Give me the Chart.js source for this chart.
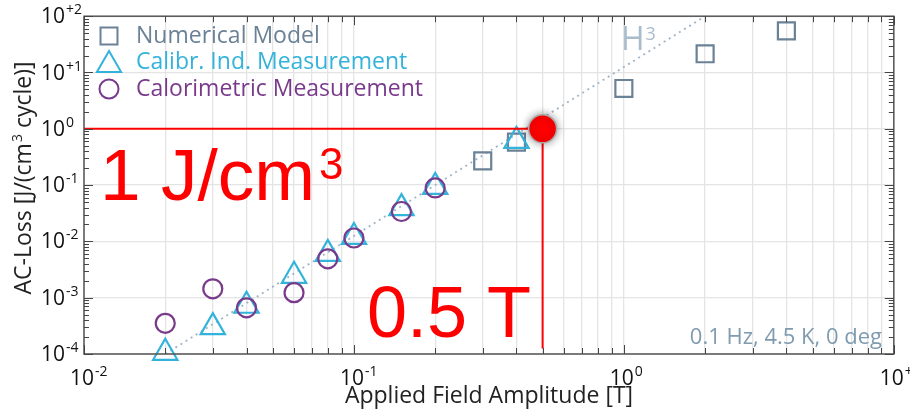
<!DOCTYPE html>
<html>
<head>
<meta charset="utf-8">
<script src="https://cdn.jsdelivr.net/npm/chart.js@4.4.0/dist/chart.umd.min.js"></script>
<style>
  html, body { margin: 0; padding: 0; background: #fff; }
  #wrap { width: 910px; height: 411px; }
</style>
</head>
<body>
<div id="wrap"><canvas id="chart" width="910" height="411"></canvas></div>
<script>
// AC-loss vs applied field, log-log
const fieldNumerical = [0.3, 0.4, 1, 2, 4];
const lossNumerical  = [0.27, 0.58, 5.2, 21.5, 55];

const fieldCalibr = [0.02, 0.03, 0.04, 0.06, 0.08, 0.1, 0.15, 0.2, 0.4];
const lossCalibr  = [1.05e-4, 3.0e-4, 7.2e-4, 2.45e-3, 6.0e-3, 0.012, 0.039, 0.093, 0.61];

const fieldCalor = [0.02, 0.03, 0.04, 0.06, 0.08, 0.1, 0.15, 0.2];
const lossCalor  = [3.5e-4, 1.44e-3, 6.6e-4, 1.23e-3, 4.9e-3, 0.0115, 0.034, 0.089];

const fieldH3 = [0.02, 2];
const lossH3  = [1e-4, 100];

const markField = [0.01, 0.5, 0.5];
const markLoss  = [1, 1, 1.25e-4];
const dotField = [0.5];
const dotLoss  = [1];

const xDecades = [-2, -1, 0, 1];
const yDecades = [-4, -3, -2, -1, 0, 1, 2];
const xTickLabels = ['-2', '-1', '0', '+1'];
const yTickLabels = ['-4', '-3', '-2', '-1', '0', '+1', '+2'];
const legendLabels = ['Numerical Model', 'Calibr. Ind. Measurement', 'Calorimetric Measurement'];

const FONT = '"Open Sans", sans-serif';
const C_NUM = '#6a8196', C_CAL = '#33b3db', C_CLR = '#7a3a8c';

const pts = (xs, ys) => xs.map((x, i) => ({ x: x, y: ys[i] }));

function logTicks(decades) {
  const out = [];
  decades.forEach((d, i) => {
    const base = Math.pow(10, d);
    if (i === decades.length - 1) { out.push(base); return; }
    for (let m = 1; m <= 9; m++) out.push(m * base);
  });
  return out;
}
const xTicks = logTicks(xDecades);
const yTicks = logTicks(yDecades);
const isDecade = v => Math.abs(Math.log10(v) - Math.round(Math.log10(v))) < 1e-9;

function drawPow(ctx, x, y, exp, align) {
  ctx.font = '21px ' + FONT;
  const w10 = ctx.measureText('10').width;
  let x0 = x;
  if (align === 'center') x0 = x - w10 / 2 - 2;
  ctx.textAlign = 'left';
  ctx.textBaseline = 'alphabetic';
  ctx.fillStyle = '#111';
  ctx.fillText('10', x0, y);
  ctx.font = '14px ' + FONT;
  ctx.fillText(exp, x0 + w10 + 1, y - 9);
}

const decor = {
  id: 'decor',
  beforeDatasetsDraw(chart) {
    const ctx = chart.ctx;
    ctx.save();
    ctx.fillStyle = '#aabccb';
    ctx.font = '32px ' + FONT;
    ctx.textBaseline = 'alphabetic';
    ctx.fillText('H', 621, 50);
    const wH = ctx.measureText('H').width;
    ctx.font = '18px ' + FONT;
    ctx.fillText('3', 621 + wH + 1, 40);
    ctx.restore();
  },
  beforeDatasetDraw(chart, args) {
    if (args.index === 5) {
      chart.ctx.save();
      chart.ctx.shadowColor = 'rgba(0,0,0,0.4)';
      chart.ctx.shadowBlur = 8;
    }
  },
  afterDatasetDraw(chart, args) {
    if (args.index === 5) chart.ctx.restore();
  },
  afterDraw(chart) {
    const ctx = chart.ctx, a = chart.chartArea;
    const xs = chart.scales.x, ys = chart.scales.y;
    ctx.save();

    // axis box
    ctx.strokeStyle = '#555';
    ctx.lineWidth = 1.5;
    ctx.strokeRect(a.left, a.top, a.right - a.left, a.bottom - a.top);

    // inward ticks
    ctx.lineWidth = 1;
    ctx.strokeStyle = '#444';
    ctx.beginPath();
    xTicks.forEach(v => {
      const px = Math.round(xs.getPixelForValue(v)) + 0.5;
      const len = isDecade(v) ? 9 : 6;
      ctx.moveTo(px, a.bottom); ctx.lineTo(px, a.bottom - len);
      ctx.moveTo(px, a.top); ctx.lineTo(px, a.top + len);
    });
    yTicks.forEach(v => {
      const py = Math.round(ys.getPixelForValue(v)) + 0.5;
      const len = isDecade(v) ? 9 : 5;
      ctx.moveTo(a.left, py); ctx.lineTo(a.left + len, py);
      ctx.moveTo(a.right, py); ctx.lineTo(a.right - len, py);
    });
    ctx.stroke();

    // tick labels
    xDecades.forEach((d, i) => {
      drawPow(ctx, xs.getPixelForValue(Math.pow(10, d)), 385, xTickLabels[i], 'center');
    });
    yDecades.forEach((d, i) => {
      drawPow(ctx, 41, ys.getPixelForValue(Math.pow(10, d)) + 7, yTickLabels[i], 'left');
    });

    // axis titles
    ctx.fillStyle = '#222';
    ctx.font = '23px ' + FONT;
    ctx.textAlign = 'center';
    ctx.fillText('Applied Field Amplitude [T]', 489, 403);

    ctx.save();
    ctx.translate(31, 178);
    ctx.rotate(-Math.PI / 2);
    ctx.textAlign = 'left';
    const p1 = 'AC-Loss [J/(cm', p2 = '3', p3 = ' cycle)]';
    ctx.font = '23px ' + FONT;
    const w1 = ctx.measureText(p1).width, w3 = ctx.measureText(p3).width;
    ctx.font = '14px ' + FONT;
    const w2 = ctx.measureText(p2).width;
    let sx = -(w1 + w2 + w3 + 1) / 2;
    ctx.font = '23px ' + FONT;
    ctx.fillText(p1, sx, 0);
    ctx.font = '14px ' + FONT;
    ctx.fillText(p2, sx + w1 + 1, -9);
    ctx.font = '23px ' + FONT;
    ctx.fillText(p3, sx + w1 + w2 + 1, 0);
    ctx.restore();

    // legend
    const rows = [36, 62, 89];
    const styles = [
      { s: 'rect', r: 12, c: C_NUM },
      { s: 'triangle', r: 14, c: C_CAL },
      { s: 'circle', r: 9.5, c: C_CLR }
    ];
    ctx.textAlign = 'left';
    ctx.textBaseline = 'middle';
    ctx.font = '23px ' + FONT;
    styles.forEach((st, i) => {
      ctx.strokeStyle = st.c;
      ctx.fillStyle = 'rgba(0,0,0,0)';
      ctx.lineWidth = 2;
      Chart.helpers.drawPoint(ctx, { pointStyle: st.s, radius: st.r, borderWidth: 2 }, 109, rows[i] + (st.s === 'triangle' ? 3 : 0));
      ctx.fillStyle = st.c;
      ctx.fillText(legendLabels[i], 136, rows[i]);
    });

    // condition note
    ctx.textAlign = 'right';
    ctx.textBaseline = 'alphabetic';
    ctx.fillStyle = '#7f9bb0';
    ctx.font = '22px ' + FONT;
    ctx.fillText('0.1 Hz, 4.5 K, 0 deg', 882, 344);

    // red callouts
    ctx.fillStyle = '#ff0000';
    ctx.textAlign = 'left';
    ctx.font = '73px "Liberation Sans", Arial, sans-serif';
    ctx.fillText('1 J/cm', 100, 200);
    const wj = ctx.measureText('1 J/cm').width;
    ctx.font = '44px "Liberation Sans", Arial, sans-serif';
    ctx.fillText('3', 100 + wj + 4, 179);
    ctx.font = '72px "Liberation Sans", Arial, sans-serif';
    ctx.fillText('0.5 T', 367, 337);

    ctx.restore();
  }
};

new Chart(document.getElementById('chart'), {
  type: 'scatter',
  data: {
    datasets: [
      { label: 'H3', type: 'line', data: pts(fieldH3, lossH3), borderColor: '#9fb4c6', borderWidth: 1.8,
        borderDash: [2, 4], pointRadius: 0, fill: false, order: 6 },
      { label: legendLabels[0], data: pts(fieldNumerical, lossNumerical), pointStyle: 'rect', pointRadius: 12,
        borderColor: C_NUM, backgroundColor: 'rgba(0,0,0,0)', borderWidth: 2.2, order: 5 },
      { label: legendLabels[1], data: pts(fieldCalibr, lossCalibr), pointStyle: 'triangle', pointRadius: 14,
        borderColor: C_CAL, backgroundColor: 'rgba(0,0,0,0)', borderWidth: 2.2, order: 4 },
      { label: legendLabels[2], data: pts(fieldCalor, lossCalor), pointStyle: 'circle', pointRadius: 9.5,
        borderColor: C_CLR, backgroundColor: 'rgba(0,0,0,0)', borderWidth: 2.2, order: 3 },
      { label: 'mark', type: 'line', data: pts(markField, markLoss), borderColor: '#ff0000', borderWidth: 2,
        pointRadius: 0, fill: false, order: 2 },
      { label: 'dot', data: pts(dotField, dotLoss), pointStyle: 'circle', pointRadius: 14,
        backgroundColor: '#ff0000', borderColor: '#aaaaaa', borderWidth: 1.5, order: 1 }
    ]
  },
  options: {
    responsive: false,
    animation: false,
    devicePixelRatio: 1,
    clip: false,
    layout: { padding: { top: 16, right: 13, left: 0, bottom: 0 } },
    plugins: { legend: { display: false }, tooltip: { enabled: false } },
    scales: {
      x: {
        type: 'logarithmic', min: 0.01, max: 10,
        afterBuildTicks: s => { s.ticks = xTicks.map(v => ({ value: v })); },
        afterFit: s => { s.height = 57; },
        ticks: { display: false },
        border: { display: false },
        grid: { color: '#e4e4e4', lineWidth: 1.3, drawTicks: false }
      },
      y: {
        type: 'logarithmic', min: 1e-4, max: 100,
        afterBuildTicks: s => { s.ticks = yTicks.map(v => ({ value: v })); },
        afterFit: s => { s.width = 84; },
        ticks: { display: false },
        border: { display: false },
        grid: {
          color: c => (c.tick && isDecade(c.tick.value)) ? '#e4e4e4' : 'rgba(0,0,0,0)',
          lineWidth: 1.3, drawTicks: false
        }
      }
    }
  },
  plugins: [decor]
});
</script>
</body>
</html>
